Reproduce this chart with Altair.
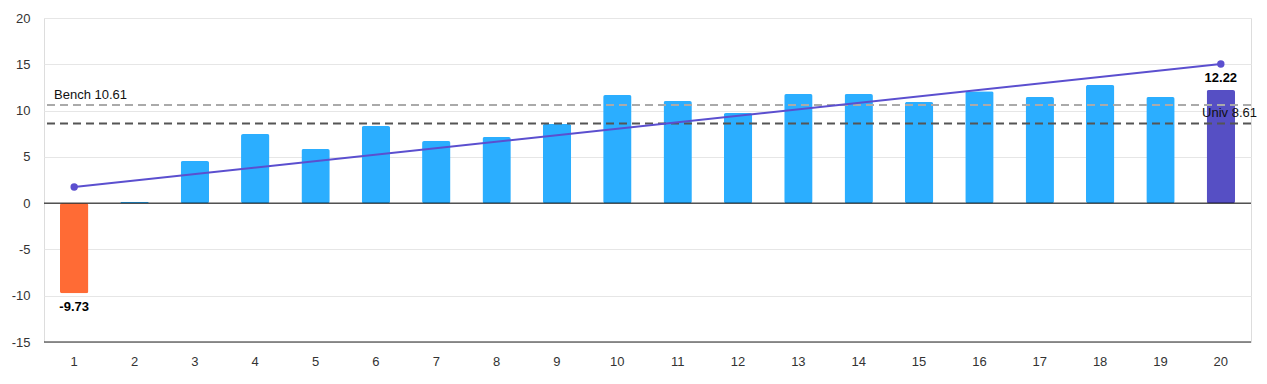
import altair as alt
import pandas as pd

categories = [str(i) for i in range(1, 21)]
values = [-9.73, 0.15, 4.55, 7.46, 5.84, 8.33, 6.70, 7.14, 8.55, 11.68,
          11.03, 9.73, 11.79, 11.79, 10.92, 12.10, 11.46, 12.76, 11.46, 12.22]
trend_x = ["1", "20"]
trend_y = [1.74, 15.03]
bench = 10.61
univ = 8.61

FONT = "Liberation Sans"

kinds = []
for i, v in enumerate(values):
    if v < 0:
        kinds.append("neg")
    elif i == len(values) - 1:
        kinds.append("last")
    else:
        kinds.append("pos")

df = pd.DataFrame({"cat": categories, "value": values, "kind": kinds})
trend = pd.DataFrame({"cat": trend_x, "value": trend_y})
bench_df = pd.DataFrame({"name": ["Bench"], "value": [bench]})
univ_df = pd.DataFrame({"name": ["Univ"], "value": [univ]})

xscale = alt.Scale(domain=categories, paddingInner=0.53, paddingOuter=0.265)
yscale = alt.Scale(domain=[-15, 20], nice=False, zero=False)

x_enc = alt.X("cat:N", scale=xscale, sort=categories,
              axis=alt.Axis(title=None, labelAngle=0, ticks=False, domain=False,
                            labelPadding=13, labelFont=FONT, labelFontSize=13,
                            labelColor="#333333", grid=False))
y_enc = alt.Y("value:Q", scale=yscale,
              axis=alt.Axis(title=None, values=list(range(-15, 21, 5)), ticks=False,
                            domain=False, labelPadding=14, labelFont=FONT,
                            labelFontSize=13, labelColor="#333333",
                            labelExpr="datum.value + ''",
                            gridColor="#e6e6e6", gridWidth=1))

base = alt.Chart(df)

bars = base.mark_bar(cornerRadius=2).encode(
    x=x_enc,
    y=y_enc,
    color=alt.Color("kind:N", scale=alt.Scale(domain=["neg", "pos", "last"],
                                              range=["#FF6B35", "#2BAEFF", "#564FC4"]),
                    legend=None),
)

bottom_line = alt.Chart(pd.DataFrame({"v": [-15]})).mark_rule(color="#222222", strokeWidth=1).encode(
    y=alt.Y("v:Q", scale=yscale))
zero_line = alt.Chart(pd.DataFrame({"v": [0]})).mark_rule(color="#000000", strokeWidth=1).encode(
    y=alt.Y("v:Q", scale=yscale))

bench_line = alt.Chart(bench_df).mark_rule(strokeDash=[8, 5], strokeWidth=2, color="#AAAAAA").encode(
    y=alt.Y("value:Q", scale=yscale))
univ_line = alt.Chart(univ_df).mark_rule(strokeDash=[8, 5], strokeWidth=2, color="#555555").encode(
    y=alt.Y("value:Q", scale=yscale))

bench_txt = alt.Chart(bench_df).mark_text(
    align="left", baseline="bottom", dy=-3, font=FONT, fontSize=13, color="#111111"
).encode(x=alt.value(10), y=alt.Y("value:Q", scale=yscale),
         text=alt.Text("label:N")).transform_calculate(
    label="datum.name + ' ' + format(datum.value, '.2f')")

univ_txt = alt.Chart(univ_df).mark_text(
    align="right", baseline="bottom", dy=-3, font=FONT, fontSize=13, color="#111111"
).encode(x=alt.value(1213), y=alt.Y("value:Q", scale=yscale),
         text=alt.Text("label:N")).transform_calculate(
    label="datum.name + ' ' + format(datum.value, '.2f')")

line = alt.Chart(trend).mark_line(color="#5B4FCF", strokeWidth=2).encode(
    x=alt.X("cat:N", scale=xscale, sort=categories), y=alt.Y("value:Q", scale=yscale))
pts = alt.Chart(trend).mark_point(filled=True, size=55, color="#5B4FCF", opacity=1).encode(
    x=alt.X("cat:N", scale=xscale, sort=categories), y=alt.Y("value:Q", scale=yscale))

neg_lab = base.transform_filter("datum.value < 0").transform_calculate(
    label="replace(format(datum.value, '.2f'), '\u2212', '-')"
).mark_text(
    baseline="top", dy=8, font=FONT, fontSize=13, fontWeight="bold", color="#000000"
).encode(x=alt.X("cat:N", scale=xscale, sort=categories), y=alt.Y("value:Q", scale=yscale),
         text=alt.Text("label:N"))
last_lab = base.transform_filter("datum.kind == 'last'").mark_text(
    baseline="bottom", dy=-5, font=FONT, fontSize=13, fontWeight="bold", color="#000000"
).encode(x=alt.X("cat:N", scale=xscale, sort=categories), y=alt.Y("value:Q", scale=yscale),
         text=alt.Text("value:Q", format=".2f"))

chart = alt.layer(
    bars, bottom_line, zero_line, bench_line, univ_line, line, pts,
    bench_txt, univ_txt, neg_lab, last_lab
).properties(
    width=1207, height=324,
    autosize=alt.AutoSizeParams(type="none"),
    padding={"left": 36, "top": 10, "right": 8, "bottom": 34},
).configure_view(stroke=None).configure(background="white")

chart.save("out.html", embed_options={"renderer": "svg", "actions": False})
